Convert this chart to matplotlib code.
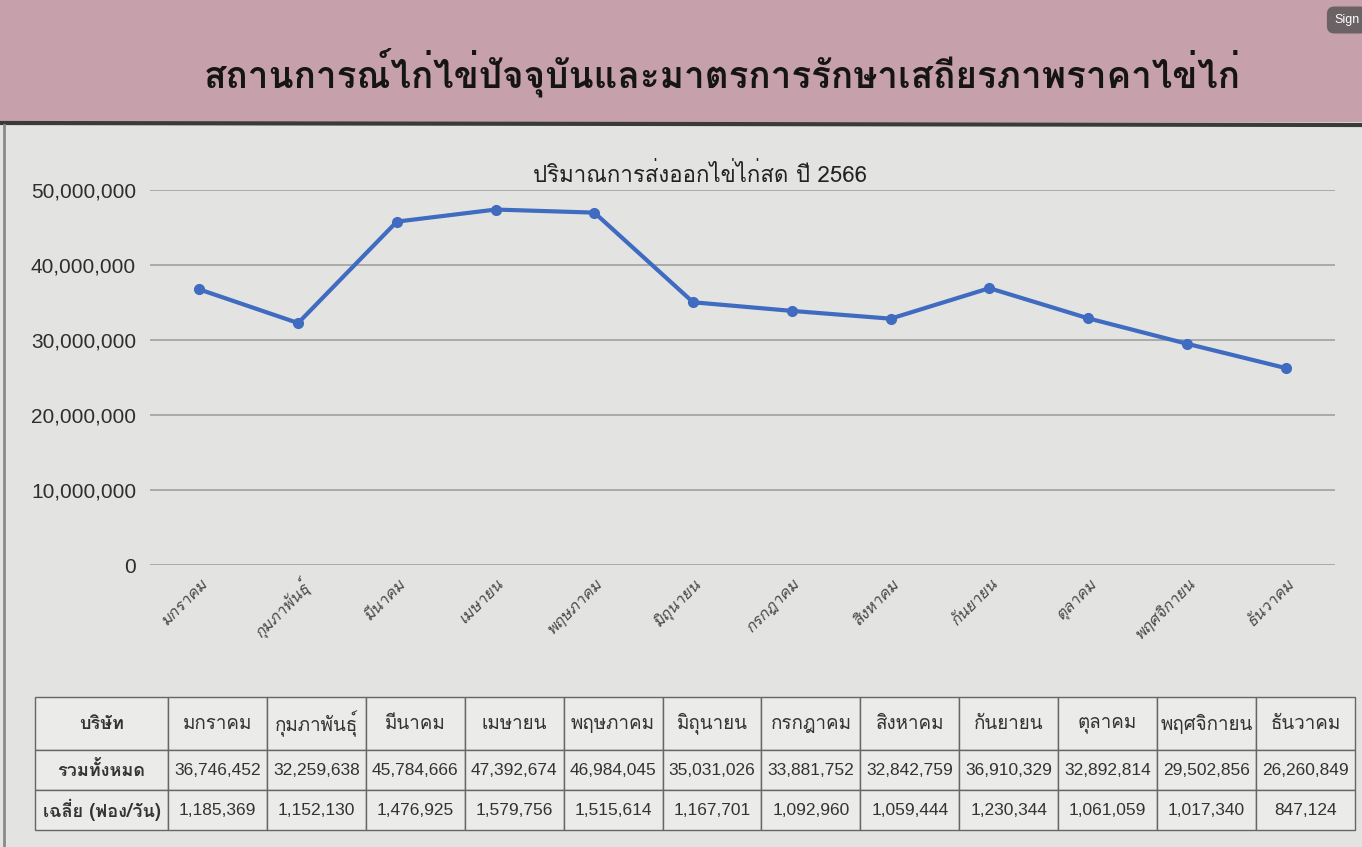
import matplotlib
matplotlib.use("Agg")
import matplotlib.pyplot as plt
from matplotlib import font_manager, ft2font
from matplotlib.patches import Rectangle
from matplotlib.lines import Line2D
from matplotlib.ticker import FuncFormatter

# find an installed font that has Thai glyphs
thai_font = None
for f in font_manager.fontManager.ttflist:
    try:
        if 0x0E01 in ft2font.FT2Font(f.fname).get_charmap():
            thai_font = f.name
            break
    except Exception:
        pass

THAI = [thai_font, 'DejaVu Sans'] if thai_font else ['DejaVu Sans']
NUM = ['Liberation Sans Narrow', 'Liberation Sans'] + THAI

main_title = "สถานการณ์ไก่ไข่ปัจจุบันและมาตรการรักษาเสถียรภาพราคาไข่ไก่"
chart_title = "ปริมาณการส่งออกไข่ไก่สด ปี 2566"
months = ["มกราคม", "กุมภาพันธุ์", "มีนาคม", "เมษายน", "พฤษภาคม", "มิถุนายน",
          "กรกฎาคม", "สิงหาคม", "กันยายน", "ตุลาคม", "พฤศจิกายน", "ธันวาคม"]
total = [36746452, 32259638, 45784666, 47392674, 46984045, 35031026,
         33881752, 32842759, 36910329, 32892814, 29502856, 26260849]
avg_per_day = [1185369, 1152130, 1476925, 1579756, 1515614, 1167701,
               1092960, 1059444, 1230344, 1061059, 1017340, 847124]
row_labels = ["บริษัท", "รวมทั้งหมด", "เฉลี่ย (ฟอง/วัน)"]

W, H = 1362, 847
fig = plt.figure(figsize=(W / 100, H / 100), dpi=100)
fig.patch.set_facecolor('#e3e3e1')

# pink banner on top
fig.patches.append(Rectangle((0, 1 - 122 / H), 1, 122 / H, transform=fig.transFigure,
                             facecolor='#c6a0aa', edgecolor='none', zorder=0))
fig.lines.append(Line2D([0, 1], [1 - 123 / H, 1 - 125 / H], transform=fig.transFigure,
                        color='#3a3a3a', lw=3))
# dark frame at the left edge of the screen
fig.lines.append(Line2D([4 / W, 4 / W], [0, 1 - 125 / H], transform=fig.transFigure,
                        color='#8a8a8a', lw=2))
fig.text(722 / W, 1 - 72 / H, main_title, ha='center', va='center',
         fontsize=26.5, fontweight='bold', family=THAI, color='#151515')
fig.text(1347 / W, 1 - 20 / H, "Sign", ha='center', va='center', fontsize=9,
         color='white', family=NUM,
         bbox=dict(boxstyle='round,pad=0.6', fc='#6b6266', ec='none'))

# line chart
ax = fig.add_axes([150 / W, 1 - 565 / H, (1335 - 150) / W, (565 - 190) / H])
ax.set_facecolor('none')
x = list(range(len(months)))
ax.plot(x, total, color='#3f6bc0', lw=3, marker='o', ms=7, zorder=3)
ax.set_xlim(-0.5, len(months) - 0.5)
ax.set_ylim(0, 50000000)
ax.set_yticks(range(0, 50000001, 10000000))
ax.yaxis.set_major_formatter(FuncFormatter(lambda v, p: f"{int(v):,}"))
ax.grid(axis='y', color='#a0a0a0', lw=1.2)
ax.set_axisbelow(True)
for s in ax.spines.values():
    s.set_visible(False)
ax.tick_params(length=0)
ax.tick_params(axis='y', pad=10, labelsize=15, labelcolor='#2e2e2e')
for t in ax.get_yticklabels():
    t.set_family(NUM)
ax.set_xticks(x)
ax.set_xticklabels(months, rotation=45, ha='right', rotation_mode='anchor',
                   fontsize=11.5, color='#4a4a4a', family=THAI, style='italic')
ax.tick_params(axis='x', pad=8)

fig.text(700 / W, 1 - 175 / H, chart_title, ha='center', va='center',
         fontsize=16, family=THAI, color='#222222')

# table below
tax = fig.add_axes([35 / W, 1 - 830 / H, (1355 - 35) / W, (830 - 697) / H])
tax.axis('off')
cells = [[row_labels[0]] + months,
         [row_labels[1]] + [f"{v:,}" for v in total],
         [row_labels[2]] + [f"{v:,}" for v in avg_per_day]]
col_w = [133] + [99] * 12
tb = tax.table(cellText=cells, colWidths=[c / sum(col_w) for c in col_w],
               bbox=[0, 0, 1, 1], cellLoc='center')
tb.auto_set_font_size(False)
row_h = [53, 40, 40]
for (r, c), cell in tb.get_celld().items():
    cell.set_facecolor('#ebebe9')
    cell.set_edgecolor('#666666')
    cell.set_linewidth(1)
    cell.set_height(row_h[r] / sum(row_h))
    txt = cell.get_text()
    txt.set_color('#333333')
    if c == 0:
        txt.set_family(THAI)
        txt.set_fontweight('bold')
        txt.set_fontsize(13)
    elif r == 0:
        txt.set_family(THAI)
        txt.set_fontsize(13.5)
    else:
        txt.set_family(NUM)
        txt.set_fontsize(12.5)

fig.savefig("out.png", dpi=100, facecolor=fig.get_facecolor())
